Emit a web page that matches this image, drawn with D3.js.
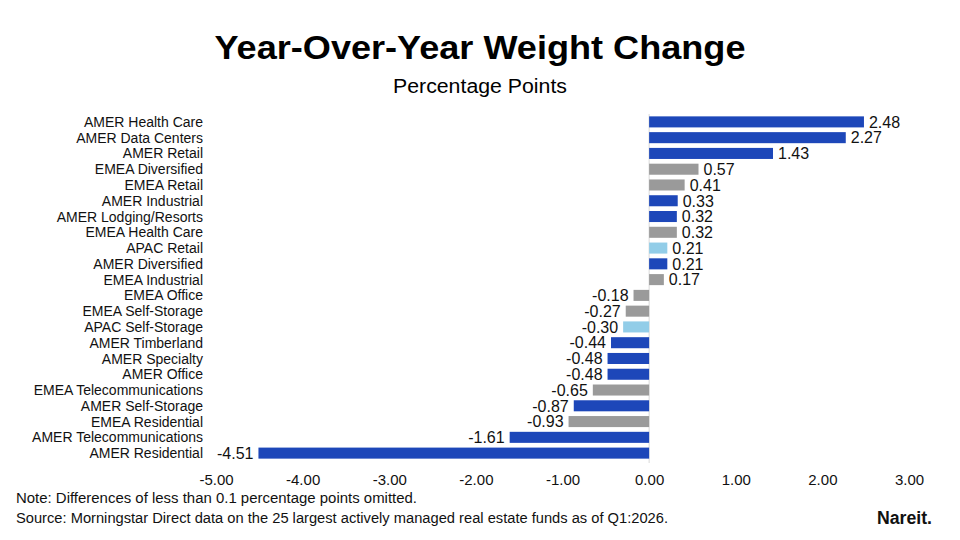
<!DOCTYPE html>
<html>
<head>
<meta charset="utf-8">
<script src="https://cdn.jsdelivr.net/npm/d3@7"></script>
<style>
  body { margin: 0; background: #fff; }
  text { font-family: "Liberation Sans", Arial, sans-serif; }
</style>
</head>
<body>
<div id="chart"></div>
<script>
var svgWidth = 960;
var svgHeight = 540;

// data
var categories = [
  "AMER Health Care", "AMER Data Centers", "AMER Retail", "EMEA Diversified",
  "EMEA Retail", "AMER Industrial", "AMER Lodging/Resorts", "EMEA Health Care",
  "APAC Retail", "AMER Diversified", "EMEA Industrial", "EMEA Office",
  "EMEA Self-Storage", "APAC Self-Storage", "AMER Timberland", "AMER Specialty",
  "AMER Office", "EMEA Telecommunications", "AMER Self-Storage", "EMEA Residential",
  "AMER Telecommunications", "AMER Residential"
];
var values = [2.48, 2.27, 1.43, 0.57, 0.41, 0.33, 0.32, 0.32, 0.21, 0.21, 0.17,
  -0.18, -0.27, -0.30, -0.44, -0.48, -0.48, -0.65, -0.87, -0.93, -1.61, -4.51];
var xTicks = [-5, -4, -3, -2, -1, 0, 1, 2, 3];

var regionColor = { "AMER": "#1d47b9", "EMEA": "#9a9a9a", "APAC": "#92cde8" };

var rows = categories.map(function(c, i) {
  return { name: c, value: values[i], region: c.split(" ")[0] };
});

var svg = d3.select("#chart")
  .append("svg")
  .attr("width", svgWidth)
  .attr("height", svgHeight);

// titles
svg.append("text")
  .attr("x", 480).attr("y", 59)
  .attr("text-anchor", "middle")
  .attr("font-size", "33px")
  .attr("font-weight", "bold")
  .attr("textLength", 531)
  .attr("lengthAdjust", "spacingAndGlyphs")
  .text("Year-Over-Year Weight Change");

svg.append("text")
  .attr("x", 480).attr("y", 93)
  .attr("text-anchor", "middle")
  .attr("font-size", "20px")
  .attr("textLength", 174)
  .attr("lengthAdjust", "spacingAndGlyphs")
  .text("Percentage Points");

// scales
var x = d3.scaleLinear().domain([-5, 3]).range([216, 909]);
var y = d3.scaleBand()
  .domain(categories)
  .range([114, 461])
  .paddingInner(0.3)
  .paddingOuter(0.15);

// zero line
svg.append("line")
  .attr("x1", x(0)).attr("x2", x(0))
  .attr("y1", 114).attr("y2", 463)
  .attr("stroke", "#d9d9d9")
  .attr("stroke-width", 1);

// bars
svg.selectAll(".bar")
  .data(rows)
  .enter()
  .append("rect")
  .attr("class", "bar")
  .attr("x", d => x(Math.min(0, d.value)))
  .attr("width", d => Math.abs(x(d.value) - x(0)))
  .attr("y", d => y(d.name))
  .attr("height", y.bandwidth())
  .attr("fill", d => regionColor[d.region]);

// value labels
svg.selectAll(".val")
  .data(rows)
  .enter()
  .append("text")
  .attr("class", "val")
  .attr("x", d => d.value >= 0 ? x(d.value) + 5 : x(d.value) - 5)
  .attr("y", d => y(d.name) + y.bandwidth() / 2)
  .attr("dy", "0.36em")
  .attr("text-anchor", d => d.value >= 0 ? "start" : "end")
  .attr("font-size", "16px")
  .attr("fill", "#111")
  .text(d => d.value.toFixed(2));

// category labels
svg.selectAll(".cat")
  .data(rows)
  .enter()
  .append("text")
  .attr("class", "cat")
  .attr("x", 203)
  .attr("y", d => y(d.name) + y.bandwidth() / 2)
  .attr("dy", "0.36em")
  .attr("text-anchor", "end")
  .attr("font-size", "14px")
  .attr("fill", "#111")
  .text(d => d.name);

// bottom axis
var bottomAxis = d3.axisBottom(x)
  .tickValues(xTicks)
  .tickFormat(d => d.toFixed(2))
  .tickSize(0)
  .tickPadding(0);

var axisG = svg.append("g")
  .attr("transform", "translate(0, 474)")
  .call(bottomAxis);
axisG.select(".domain").remove();
axisG.selectAll("text")
  .attr("font-family", "Liberation Sans, Arial, sans-serif")
  .attr("font-size", "15px")
  .attr("fill", "#111");

// notes
svg.append("text")
  .attr("x", 16).attr("y", 503)
  .attr("font-size", "14px")
  .attr("textLength", 401)
  .attr("lengthAdjust", "spacingAndGlyphs")
  .attr("fill", "#111")
  .text("Note: Differences of less than 0.1 percentage points omitted.");

svg.append("text")
  .attr("x", 16).attr("y", 523)
  .attr("font-size", "14px")
  .attr("textLength", 652)
  .attr("lengthAdjust", "spacingAndGlyphs")
  .attr("fill", "#111")
  .text("Source: Morningstar Direct data on the 25 largest actively managed real estate funds as of Q1:2026.");

// logo
svg.append("text")
  .attr("x", 877).attr("y", 524)
  .attr("font-size", "18px")
  .attr("font-weight", "bold")
  .attr("textLength", 55)
  .attr("lengthAdjust", "spacingAndGlyphs")
  .attr("fill", "#111")
  .text("Nareit.");
</script>
</body>
</html>
